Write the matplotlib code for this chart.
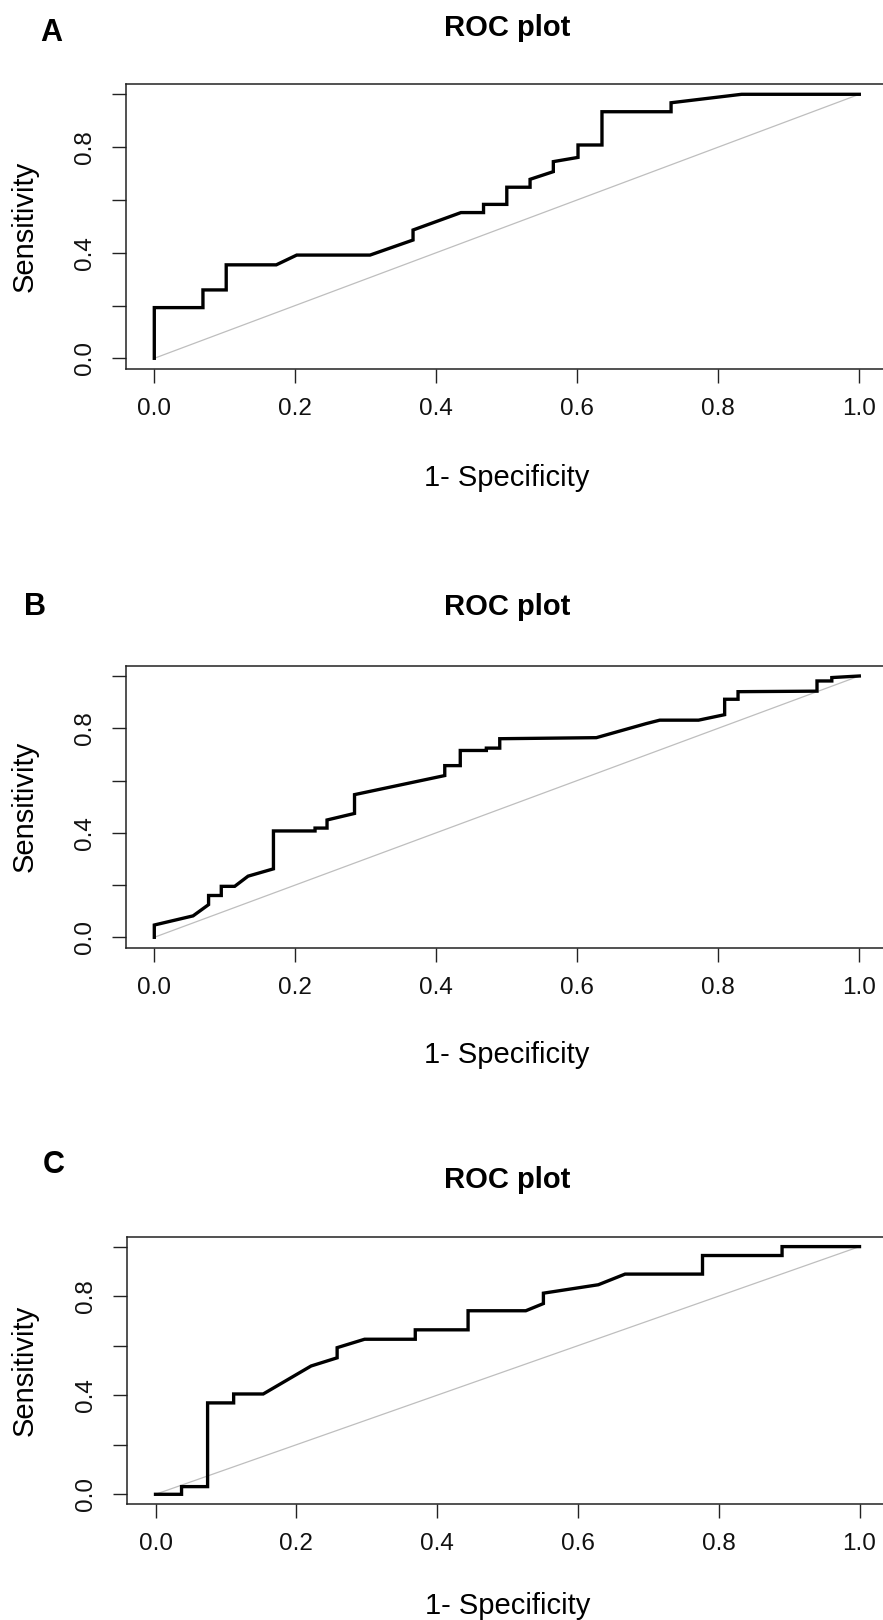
import numpy as np
import matplotlib
matplotlib.use("Agg")
import matplotlib.pyplot as plt

# ROC curves (1 - specificity, sensitivity)
fpr_a = [0.0, 0.0, 0.069, 0.069, 0.102, 0.102, 0.173, 0.202, 0.306, 0.367, 0.367,
         0.435, 0.467, 0.467, 0.500, 0.500, 0.533, 0.533, 0.566, 0.566, 0.601,
         0.601, 0.635, 0.635, 0.733, 0.733, 0.833, 1.0]
tpr_a = [0.0, 0.192, 0.192, 0.259, 0.259, 0.354, 0.354, 0.391, 0.391, 0.448, 0.486,
         0.552, 0.552, 0.583, 0.583, 0.648, 0.648, 0.678, 0.707, 0.745, 0.761,
         0.808, 0.808, 0.934, 0.934, 0.968, 1.0, 1.0]

fpr_b = [0.0, 0.0, 0.055, 0.077, 0.077, 0.095, 0.095, 0.114, 0.133, 0.169, 0.169,
         0.228, 0.228, 0.245, 0.245, 0.284, 0.284, 0.412, 0.412, 0.434, 0.434,
         0.471, 0.471, 0.490, 0.490, 0.627, 0.698, 0.717, 0.772, 0.809, 0.809,
         0.828, 0.828, 0.940, 0.940, 0.961, 0.961, 1.0]
tpr_b = [0.0, 0.047, 0.082, 0.125, 0.160, 0.160, 0.195, 0.195, 0.234, 0.262, 0.407,
         0.407, 0.418, 0.418, 0.449, 0.474, 0.546, 0.619, 0.657, 0.657, 0.715,
         0.715, 0.724, 0.724, 0.760, 0.764, 0.818, 0.831, 0.831, 0.852, 0.911,
         0.911, 0.940, 0.942, 0.981, 0.981, 0.994, 1.0]

fpr_c = [0.0, 0.037, 0.037, 0.074, 0.074, 0.111, 0.111, 0.153, 0.221, 0.258, 0.258,
         0.297, 0.369, 0.369, 0.444, 0.444, 0.526, 0.551, 0.551, 0.629, 0.667,
         0.777, 0.777, 0.890, 0.890, 1.0]
tpr_c = [0.0, 0.0, 0.031, 0.031, 0.369, 0.369, 0.405, 0.405, 0.518, 0.551, 0.592,
         0.626, 0.626, 0.664, 0.664, 0.741, 0.741, 0.770, 0.812, 0.846, 0.889,
         0.889, 0.964, 0.964, 1.0, 1.0]

panels = ["A", "B", "C"]
curves = [(fpr_a, tpr_a), (fpr_b, tpr_b), (fpr_c, tpr_c)]

x_ticks = [0.0, 0.2, 0.4, 0.6, 0.8, 1.0]
x_ticklabels = ["0.0", "0.2", "0.4", "0.6", "0.8", "1.0"]
y_ticks = [0.0, 0.2, 0.4, 0.6, 0.8, 1.0]
y_ticklabels = ["0.0", "", "0.4", "", "0.8", ""]

W, H = 883, 1620
plt.rcParams['font.family'] = ['Liberation Sans', 'DejaVu Sans']

fig = plt.figure(figsize=(W / 100, H / 100), dpi=100)

# pixel layout per panel: axis origin/scale, letter position, title y, xlabel y
layout = [
    dict(x0=154.3, xs=705, y0=358.3, ys=264.0, letter=(51, 33), title=28, xlab=478),
    dict(x0=154.3, xs=705, y0=937.3, ys=261.3, letter=(35, 607), title=607, xlab=1055),
    dict(x0=155.5, xs=704, y0=1494.3, ys=247.7, letter=(54, 1165), title=1180, xlab=1606),
]


def fx(px):
    return px / W


def fy(py):
    return 1 - py / H


for name, (fpr, tpr), L in zip(panels, curves, layout):
    left = L['x0'] - 0.04 * L['xs']
    width = 1.08 * L['xs']
    bottom = L['y0'] + 0.04 * L['ys']
    height = 1.08 * L['ys']
    ax = fig.add_axes([fx(left), fy(bottom), width / W, height / H])
    ax.set_xlim(-0.04, 1.04)
    ax.set_ylim(-0.04, 1.04)

    ax.plot([0, 1], [0, 1], color='#bebebe', lw=0.9)
    ax.plot(fpr, tpr, color='black', lw=2.4, solid_joinstyle='miter')

    ax.set_xticks(x_ticks)
    ax.set_xticklabels(x_ticklabels)
    ax.set_yticks(y_ticks)
    ax.set_yticklabels(y_ticklabels)
    ax.tick_params(axis='both', length=10, width=1.0, color='#222222',
                   labelsize=17.5, labelcolor='#111111')
    ax.tick_params(axis='x', pad=11)
    ax.tick_params(axis='y', pad=12, labelrotation=90)
    for lbl in ax.get_yticklabels():
        lbl.set_va('center')
    for sp in ax.spines.values():
        sp.set_linewidth(1.1)
        sp.set_color('#222222')

    cx = left + width / 2
    cy = L['y0'] - 0.5 * L['ys']
    fig.text(fx(L['letter'][0]), fy(L['letter'][1]), name, fontsize=22,
             fontweight='bold', ha='center', va='center')
    fig.text(fx(cx), fy(L['title']), "ROC plot", fontsize=21,
             fontweight='bold', ha='center', va='center')
    fig.text(fx(cx), fy(L['xlab']), "1- Specificity", fontsize=21,
             ha='center', va='center')
    fig.text(fx(25), fy(cy), "Sensitivity", fontsize=21, rotation=90,
             ha='center', va='center')

fig.savefig("out.png", dpi=100)
